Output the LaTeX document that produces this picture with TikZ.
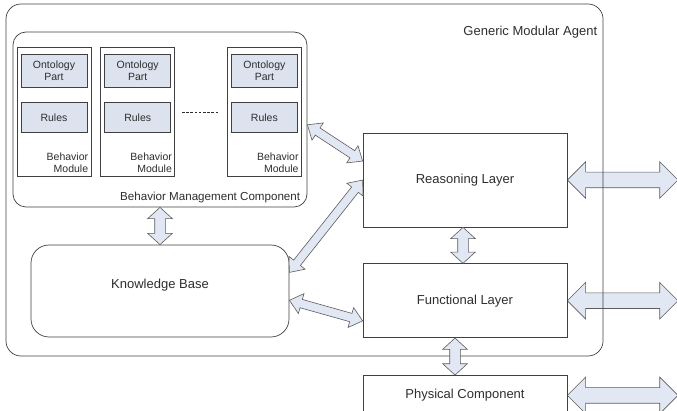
\documentclass[tikz,border=0pt]{standalone}
\usepackage{fontspec}
\setmainfont{Liberation Sans}
\usetikzlibrary{calc}
\usetikzlibrary{positioning}
\usetikzlibrary{shapes.arrows}
\usetikzlibrary{backgrounds}
\definecolor{lineGray}{HTML}{404040}
\definecolor{textGray}{HTML}{2e2e2e}
\definecolor{partBlue}{HTML}{dce3ef}
\definecolor{arrowBlue}{HTML}{e1e7f3}
\definecolor{arrowEdge}{HTML}{5c5c5c}
\newcommand{\labelfont}{\fontsize{13}{15}\selectfont}
\newcommand{\bmcfont}{\fontsize{11.6}{13}\selectfont}
\newcommand{\modfont}{\fontsize{10.5}{12}\selectfont}
\tikzset{
    roundbox/.style={draw=lineGray, line width=0.7pt, fill=white},
    modbox/.style={draw=lineGray, line width=0.7pt, fill=white, minimum width=\modWidth pt, minimum height=\modHeight pt},
    partbox/.style={draw=lineGray, line width=0.7pt, fill=partBlue, font=\modfont, minimum width=66pt},
    layerbox/.style={draw=lineGray, line width=0.7pt, fill=white, font=\labelfont, minimum width=\layerWidth pt},
    dashline/.style={draw=textGray, line width=1pt, dash pattern=on 2.6pt off 1.6pt},
    dblbase/.style={double arrow, draw=arrowEdge, fill=arrowBlue, line width=0.6pt, minimum width=0pt, inner xsep=0pt},
    bigarrow/.style={dblbase, inner ysep=7.5pt, double arrow head extend=10.5pt, double arrow tip angle=90},
    smallarrow/.style={dblbase, inner ysep=5pt, double arrow head extend=7pt, double arrow tip angle=95},
    slimarrow/.style={dblbase, inner ysep=4pt, double arrow head extend=6pt, double arrow tip angle=80}
}
% one behavior module: frame, ontology part, rules and its name
\newcommand{\behmodule}[2]{
    \begin{scope}
        \node (#1) [modbox, #2] {};
        \node (#1_onto) [partbox, minimum height=33pt, below=7pt of #1.north, anchor=north] {Ontology\\Part};
        \node (#1_rules) [partbox, minimum height=30pt, below=15pt of #1_onto] {Rules};
        \node (#1_name) [font=\modfont, align=right, anchor=south east] at ([shift={(-3pt,4pt)}]#1.south east) {Behavior\\Module};
    \end{scope}
}
% block double arrow from #1 to #2
\newcommand{\dblarrow}[3]{
    \path let \p1=(#1), \p2=(#2), \n1={atan2(\y2-\y1,\x2-\x1)}, \n2={veclen(\x2-\x1,\y2-\y1)} in
        node [#3, rotate=\n1, minimum height=\n2] at ($(\p1)!0.5!(\p2)$) {};
}

\begin{document}
\begin{tikzpicture}[x=1pt, y=-1pt, inner sep=0pt, align=center, text=textGray]
    \pgfmathsetmacro{\modWidth}{74}
    \pgfmathsetmacro{\modHeight}{129}
    \pgfmathsetmacro{\layerWidth}{204}

    \useasboundingbox (0,0) rectangle (677,411);

    \node (agent) [draw=lineGray, line width=0.7pt, rounded corners=15pt, minimum width=597pt, minimum height=352pt] at (304.5,180) {};
    \node (agent_label) [font=\labelfont, anchor=east] at ([shift={(-6pt,-28pt)}]agent.north east) {Generic Modular Agent};

    \node (bmc) [roundbox, rounded corners=13pt, minimum width=294pt, minimum height=175pt] at (160,119.5) {};
    \node (bmc_label) [font=\bmcfont, anchor=east] at ([shift={(-7pt,10pt)}]bmc.south east) {Behavior Management Component};

    \behmodule{mod1}{at={(54,111.5)}}
    \behmodule{mod2}{right=9pt of mod1}
    \behmodule{mod3}{right=52pt of mod2}
    \draw [dashline] ($(mod2.east)+(7pt,-1.5pt)$) -- ($(mod3.west)+(-8pt,-1.5pt)$);

    \node (kb) [roundbox, rounded corners=18pt, minimum width=258pt, minimum height=92pt, label={[font=\labelfont, yshift=6pt]center:Knowledge Base}] at (160,291) {};

    \node (reason) [layerbox, minimum height=94pt] at (465,180) {Reasoning Layer};
    \node (func) [layerbox, minimum height=74pt, below=36pt of reason] {Functional Layer};
    \node (phys) [layerbox, minimum height=40pt, below=37pt of func] {Physical Component};

    \coordinate (rim) at (678,0);

    \dblarrow{bmc.south}{kb.north}{smallarrow}
    \dblarrow{$(bmc.north east)!0.53!(bmc.south east)$}{$(reason.north west)!0.3!(reason.south west)$}{slimarrow}
    \dblarrow{$(kb.north east)!0.3!(kb.south east)$}{reason.west}{slimarrow}
    \dblarrow{$(kb.north east)!0.6!(kb.south east)$}{$(func.north west)!0.77!(func.south west)$}{slimarrow}
    \dblarrow{[xshift=-2pt]reason.south}{[xshift=-2pt]func.north}{smallarrow}
    \dblarrow{[xshift=-10pt]func.south}{[xshift=-10pt]phys.north}{smallarrow}

    \begin{pgfonlayer}{background}
        \dblarrow{reason.east}{reason.east -| rim}{bigarrow}
        \dblarrow{func.east}{func.east -| rim}{bigarrow}
        \dblarrow{phys.east}{phys.east -| rim}{bigarrow}
    \end{pgfonlayer}
\end{tikzpicture}
\end{document}
